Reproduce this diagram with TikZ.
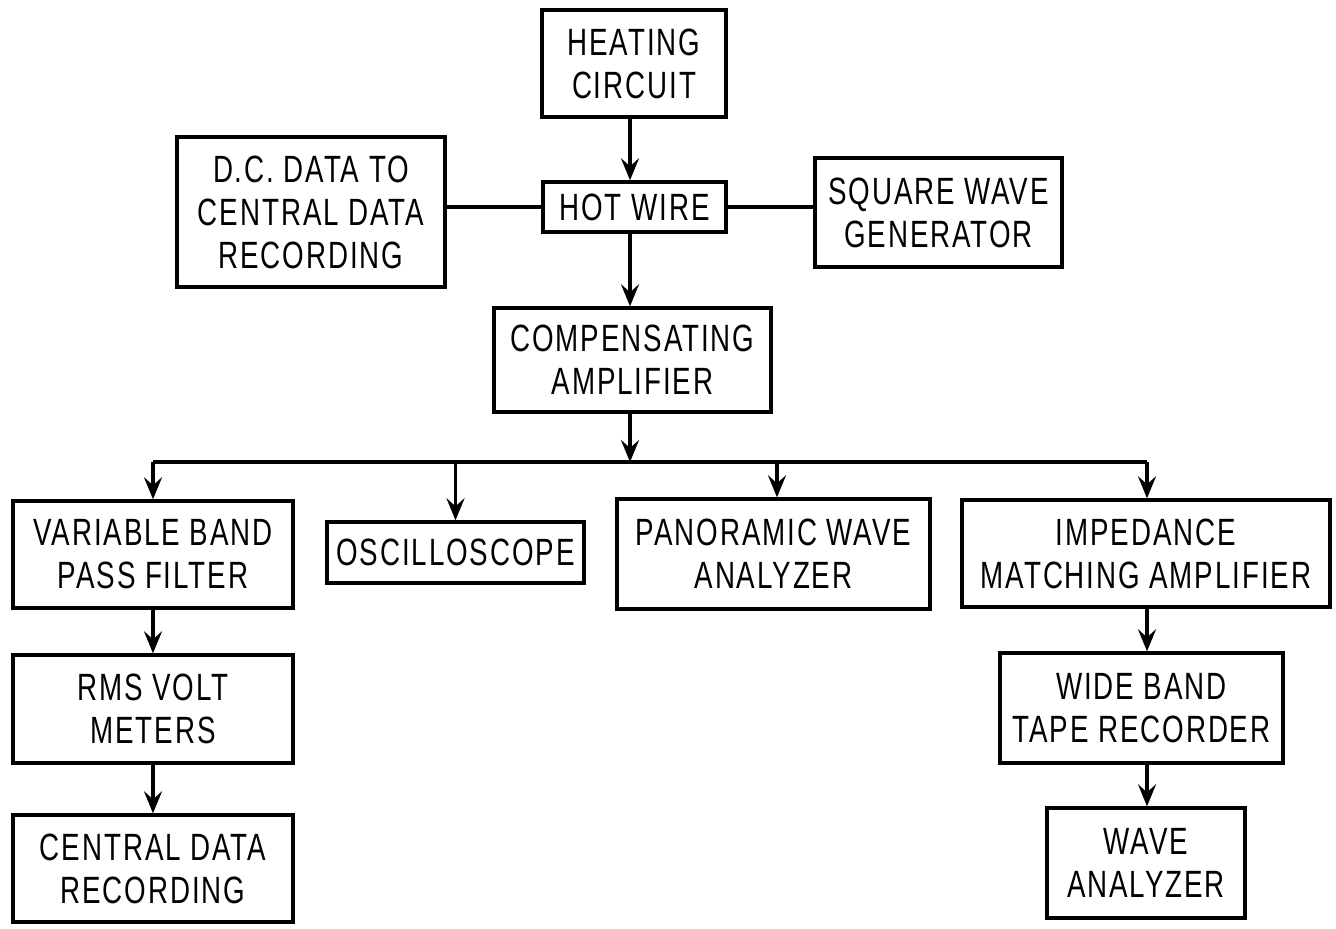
\documentclass[tikz,border=0pt]{standalone}
\usepackage{fontspec}
\setmainfont{Liberation Sans}[FakeStretch=0.73,LetterSpace=5]
\usetikzlibrary{arrows.meta}
\begin{document}
\begin{tikzpicture}[x=0.5pt,y=-0.5pt,
  blk/.style={draw,line width=1.7pt,inner sep=0pt,align=center,
    font=\fontsize{19}{21.5}\selectfont},
  conn/.style={line width=1.6pt},
  arr/.style={conn,-{Stealth[length=11pt,width=9pt,inset=4pt]}}]
\useasboundingbox (0,0) rectangle (1336,928);
\node[blk,minimum width=92pt,minimum height=53.5pt] (heat) at (634,63.5) {HEATING\\CIRCUIT};
\node[blk,minimum width=91.5pt,minimum height=25pt] (hot) at (634.5,207) {HOT WIRE};
\node[blk,minimum width=134pt,minimum height=75pt] (dc) at (311,212) {D.C. DATA TO\\CENTRAL DATA\\RECORDING};
\node[blk,minimum width=123.5pt,minimum height=54.5pt] (sq) at (938.5,212.5) {SQUARE WAVE\\GENERATOR};
\node[blk,minimum width=138.5pt,minimum height=52pt] (comp) at (632.5,360) {COMPENSATING\\AMPLIFIER};
\node[blk,minimum width=140pt,minimum height=53.5pt] (vbpf) at (153,554.5) {VARIABLE BAND\\PASS FILTER};
\node[blk,minimum width=128.5pt,minimum height=30.5pt] (osc) at (455.5,552.5) {OSCILLOSCOPE};
\node[blk,minimum width=156.5pt,minimum height=55pt] (pan) at (773.5,554) {PANORAMIC WAVE\\ANALYZER};
\node[blk,minimum width=184pt,minimum height=53.5pt] (imp) at (1146,553.5) {IMPEDANCE\\MATCHING AMPLIFIER};
\node[blk,minimum width=140pt,minimum height=54pt] (rms) at (153,709) {RMS VOLT\\METERS};
\node[blk,minimum width=140pt,minimum height=53.5pt] (cdr) at (153,868.5) {CENTRAL DATA\\RECORDING};
\node[blk,minimum width=141.5pt,minimum height=55pt] (wbt) at (1141.5,708) {WIDE BAND\\TAPE RECORDER};
\node[blk,minimum width=99pt,minimum height=55pt] (wave) at (1146,863) {WAVE\\ANALYZER};
\coordinate (busL) at (153,462);
\coordinate (busR) at (1147,462);
\coordinate (busM) at (630,462);
% connectors
\draw[arr] (heat.south -| busM) -- (hot.north -| busM);
\draw[conn] (hot.west) -- (hot.west -| dc.east);
\draw[conn] (hot.east) -- (hot.east -| sq.west);
\draw[arr] (hot.south -| busM) -- (comp.north -| busM);
\draw[arr] (comp.south -| busM) -- (busM);
\draw[conn] (busL) -- (busR);
\draw[arr] (busL) -- (busL |- vbpf.north);
\draw[arr] (osc.north |- busL) -- (osc.north);
\draw[arr] (busM -| 777,0) -- (pan.north -| 777,0);
\draw[arr] (busR) -- (busR |- imp.north);
\draw[arr] (vbpf.south) -- (rms.north);
\draw[arr] (rms.south) -- (cdr.north);
\draw[arr] (imp.south -| busR) -- (wbt.north -| busR);
\draw[arr] (wbt.south -| busR) -- (wave.north -| busR);
\end{tikzpicture}
\end{document}
